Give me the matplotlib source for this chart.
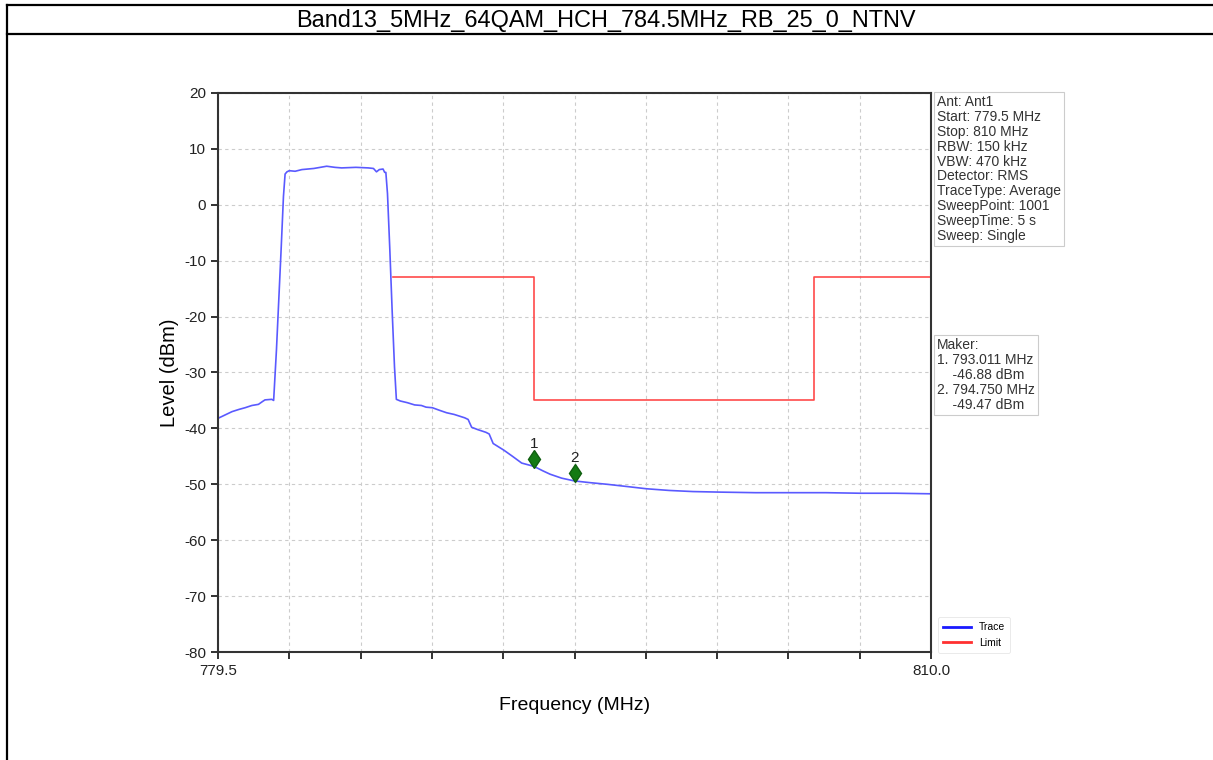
import matplotlib
matplotlib.use("Agg")
import matplotlib.pyplot as plt
from matplotlib.lines import Line2D
import matplotlib.transforms as mtransforms

plt.rcParams['font.family'] = ['Liberation Sans', 'DejaVu Sans']
plt.rcParams['axes.unicode_minus'] = False

# ---------------- data ----------------
title = "Band13_5MHz_64QAM_HCH_784.5MHz_RB_25_0_NTNV"

trace_freq = [779.50, 779.80, 780.10, 780.40, 780.66, 780.95, 781.23, 781.40, 781.51, 781.80, 781.88,
              782.00, 782.10, 782.20, 782.30, 782.37, 782.45, 782.55, 782.80, 783.09, 783.60, 784.15,
              784.50, 784.79, 785.40, 785.93, 786.15, 786.28, 786.40, 786.56, 786.63, 786.68,
              786.75, 786.85, 786.95, 787.05, 787.13, 787.30, 787.60, 787.91, 788.20, 788.40,
              788.67, 789.00, 789.28, 789.60, 790.05, 790.20, 790.35, 790.60, 790.96, 791.10,
              791.27, 791.50, 791.73, 792.10, 792.49, 793.02, 793.40, 793.71, 794.20, 794.75,
              795.40, 796.15, 797.00, 797.83, 798.80, 799.82, 801.00, 802.50, 804.00, 805.50,
              807.00, 808.50, 810.00]
trace_level = [-38.2, -37.6, -37.0, -36.6, -36.3, -35.9, -35.7, -35.2, -34.9, -34.8, -35.0,
               -26.0, -17.0, -8.0, 1.5, 5.5, 5.9, 6.1, 6.0, 6.3, 6.5, 6.9,
               6.7, 6.6, 6.7, 6.6, 6.5, 5.9, 6.3, 6.4, 5.8, 5.8,
               2.0, -8.0, -19.0, -29.0, -34.8, -35.1, -35.4, -35.8, -35.9, -36.2,
               -36.3, -36.8, -37.2, -37.5, -38.1, -38.4, -39.8, -40.2, -40.7, -41.0,
               -42.7, -43.3, -43.9, -45.0, -46.2, -46.8, -47.6, -48.2, -48.9, -49.4,
               -49.7, -50.0, -50.4, -50.8, -51.1, -51.3, -51.4, -51.5, -51.5, -51.5,
               -51.6, -51.6, -51.7]

limit_freq = [787.0, 793.0, 793.0, 805.0, 805.0, 810.0]
limit_level = [-13.0, -13.0, -35.0, -35.0, -13.0, -13.0]

marker_freq = [793.011, 794.750]
marker_level = [-46.88, -49.47]
marker_names = ["1", "2"]

x_min, x_max = 779.5, 810.0
x_tick_count = 10
y_ticks = [20, 10, 0, -10, -20, -30, -40, -50, -60, -70, -80]

info_lines = ["Ant: Ant1", "Start: 779.5 MHz", "Stop: 810 MHz", "RBW: 150 kHz",
              "VBW: 470 kHz", "Detector: RMS", "TraceType: Average", "SweepPoint: 1001",
              "SweepTime: 5 s", "Sweep: Single"]
marker_lines = ["Maker:", "1. 793.011 MHz", "    -46.88 dBm", "2. 794.750 MHz", "    -49.47 dBm"]

# ---------------- figure ----------------
W, H = 1213, 760
fig = plt.figure(figsize=(W / 100, H / 100), dpi=100)

def fx(px):
    return px / W

def fy(py):
    return 1 - py / H

# outer frame lines
for (x0, y0, x1, y1) in [(7, 5, W, 5), (7, 34, W, 34), (7, 5, 7, H)]:
    fig.add_artist(Line2D([fx(x0), fx(x1)], [fy(y0), fy(y1)], transform=fig.transFigure,
                          color='black', lw=1.6))
fig.text(fx(606), fy(20), title, ha='center', va='center', fontsize=16.9)

ax = fig.add_axes([fx(218), fy(652), fx(931) - fx(218), fy(93) - fy(652)])

ax.plot(trace_freq, trace_level, color='#5a5aff', lw=1.2, label='Trace')
ax.plot(limit_freq, limit_level, color='#ff4a4a', lw=1.2, label='Limit')

off = mtransforms.offset_copy(ax.transData, fig=fig, x=0, y=8, units='dots')
ax.plot(marker_freq, marker_level, linestyle='none', marker='d', markersize=9.5,
        color='#137a13', markeredgecolor='#0e5e0e', transform=off)
for f, l, n in zip(marker_freq, marker_level, marker_names):
    ax.annotate(n, (f, l), xytext=(0, 23), textcoords='offset pixels',
                ha='center', va='center', fontsize=11, color='#222222')

ax.set_xlim(x_min, x_max)
ax.set_ylim(-80, 20)
step = (x_max - x_min) / x_tick_count
xt = [x_min + i * step for i in range(x_tick_count + 1)]
ax.set_xticks(xt)
ax.set_xticklabels([f"{x_min:.1f}"] + [""] * (x_tick_count - 1) + [f"{x_max:.1f}"])
ax.set_yticks(y_ticks)
ax.set_yticklabels([str(v) for v in y_ticks])
ax.tick_params(axis='both', direction='out', length=5, width=1.3, labelsize=11, colors='#222222')
ax.grid(True, color='#cccccc', linestyle=(0, (3, 3)), lw=0.8)
for s in ax.spines.values():
    s.set_color('#333333')
    s.set_linewidth(1.5)

ax.set_xlabel("Frequency (MHz)", fontsize=14, labelpad=14)
ax.set_ylabel("Level (dBm)", fontsize=14.5, labelpad=4)

# info boxes
fig.text(fx(937), fy(95), "\n".join(info_lines), ha='left', va='top', fontsize=10,
         linespacing=1.08, color='#333333',
         bbox=dict(boxstyle='square,pad=0.25', facecolor='white', edgecolor='#cccccc', lw=0.8))
fig.text(fx(937), fy(338), "\n".join(marker_lines), ha='left', va='top', fontsize=10,
         linespacing=1.08, color='#333333',
         bbox=dict(boxstyle='square,pad=0.25', facecolor='white', edgecolor='#cccccc', lw=0.8))

leg = fig.legend(handles=ax.get_lines()[:2], labels=['Trace', 'Limit'],
                 loc='upper left', bbox_to_anchor=(fx(933), fy(612)), fontsize=7.5,
                 frameon=True, handlelength=2.6, borderpad=0.5, labelspacing=0.5)
leg.get_frame().set_edgecolor('#e0e0e0')
leg.get_frame().set_linewidth(0.6)
leg.get_lines()[0].set_color('#1a1aff')
leg.get_lines()[0].set_linewidth(2)
leg.get_lines()[1].set_color('#ff3030')
leg.get_lines()[1].set_linewidth(2)

fig.savefig("out.png", dpi=100)
